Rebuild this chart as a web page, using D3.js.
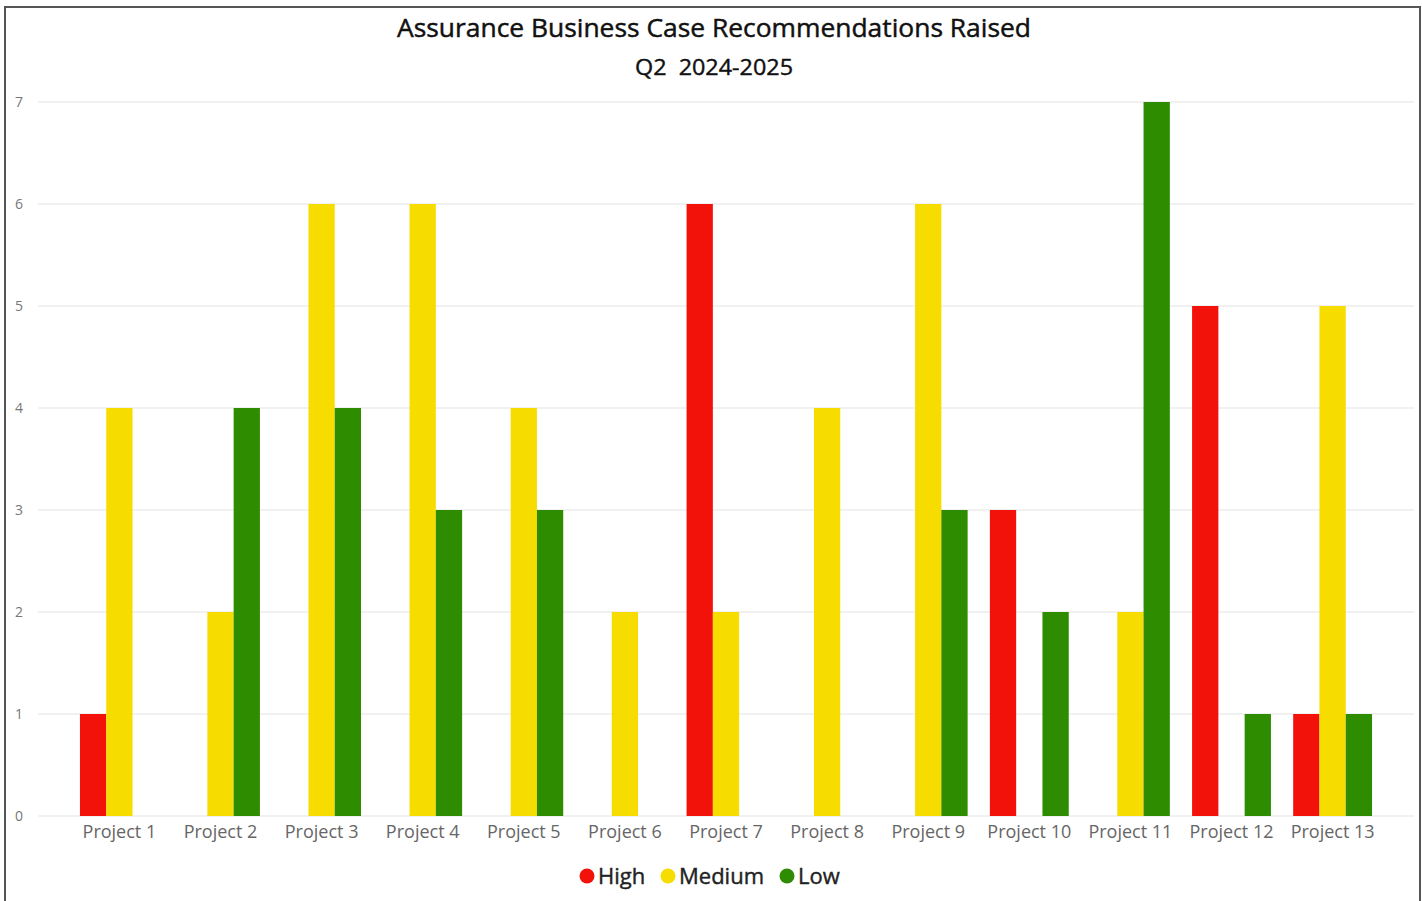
<!DOCTYPE html>
<html><head><meta charset="utf-8">
<script src="https://cdn.jsdelivr.net/npm/d3@7"></script>
<style>body{margin:0;background:#fff;}svg{display:block;}</style>
</head><body>
<svg id="c" width="1422" height="901"></svg>
<script>
const categories = ["Project 1","Project 2","Project 3","Project 4","Project 5","Project 6","Project 7","Project 8","Project 9","Project 10","Project 11","Project 12","Project 13"];
const seriesNames = ["High","Medium","Low"];
const high   = [1,0,0,0,0,0,6,0,0,3,0,5,1];
const medium = [4,2,6,6,4,2,2,4,6,0,2,0,5];
const low    = [0,4,4,3,3,0,0,0,3,2,7,1,1];
const yTicks = [0,1,2,3,4,5,6,7];
const colors = ["#F2120A","#F7DC00","#2E8C00"];

const svg = d3.select("#c");
const font = "'Open Sans', 'Noto Sans', sans-serif";

svg.append("rect").attr("x",5).attr("y",7).attr("width",1415).attr("height",910)
  .attr("fill","#fff").attr("stroke","#555").attr("stroke-width",2);

const x = d3.scaleBand().domain(categories).range([38,1414]).paddingInner(0.22).paddingOuter(0.415);
const xs = d3.scaleBand().domain(seriesNames).range([0,x.bandwidth()]);
const y = d3.scaleLinear().domain([0,7]).range([816,102]);

// gridlines
svg.append("g").selectAll("line").data(yTicks).join("line")
  .attr("x1",38).attr("x2",1414).attr("y1",d=>y(d)).attr("y2",d=>y(d))
  .attr("stroke","#EDEDED").attr("stroke-width",1.5);

// y axis labels
const yAxis = d3.axisLeft(y).tickValues(yTicks).tickFormat(d3.format("d")).tickSize(0).tickPadding(0);
const yg = svg.append("g").attr("transform","translate(19,0)").call(yAxis);
yg.select(".domain").remove();
yg.selectAll("text").attr("text-anchor","middle").attr("font-family",font).attr("font-size",14).attr("fill","#777");

// x axis labels
const xAxis = d3.axisBottom(x).tickSize(0).tickPadding(9);
const xg = svg.append("g").attr("transform","translate(0,816)").call(xAxis);
xg.select(".domain").remove();
xg.selectAll("text").attr("font-family",font).attr("font-size",18).attr("fill","#666");

const data = categories.map((c,i)=>({cat:c, vals:[high[i],medium[i],low[i]]}));
const groups = svg.append("g").selectAll("g").data(data).join("g")
  .attr("transform",d=>`translate(${x(d.cat)},0)`);
groups.selectAll("rect").data(d=>d.vals.map((v,j)=>({s:seriesNames[j],v,j})).filter(e=>e.v>0)).join("rect")
  .attr("x",e=>xs(e.s)).attr("width",xs.bandwidth())
  .attr("y",e=>y(e.v)).attr("height",e=>y(0)-y(e.v))
  .attr("fill",e=>colors[e.j]);

// titles
svg.append("text").attr("x",714).attr("y",37).attr("text-anchor","middle")
  .attr("font-family",font).attr("font-size",25).attr("fill","#111")
  .attr("stroke","#111").attr("stroke-width",0.45)
  .attr("textLength",634).attr("lengthAdjust","spacingAndGlyphs")
  .text("Assurance Business Case Recommendations Raised");
svg.append("text").attr("x",714).attr("y",75).attr("text-anchor","middle")
  .attr("font-family",font).attr("font-size",21).attr("fill","#111")
  .attr("stroke","#111").attr("stroke-width",0.4)
  .style("white-space","pre")
  .attr("textLength",158).attr("lengthAdjust","spacingAndGlyphs")
  .text("Q2  2024-2025");

// legend
const legendX = [587,668,787];
const lg = svg.append("g").selectAll("g").data(seriesNames).join("g")
  .attr("transform",(d,i)=>`translate(${legendX[i]},876)`);
lg.append("circle").attr("r",7.5).attr("fill",(d,i)=>colors[i]);
lg.append("text").attr("x",11).attr("y",8).attr("font-family",font).attr("font-size",22)
  .attr("fill","#222").attr("stroke","#222").attr("stroke-width",0.4).text(d=>d);
</script>
</body></html>
